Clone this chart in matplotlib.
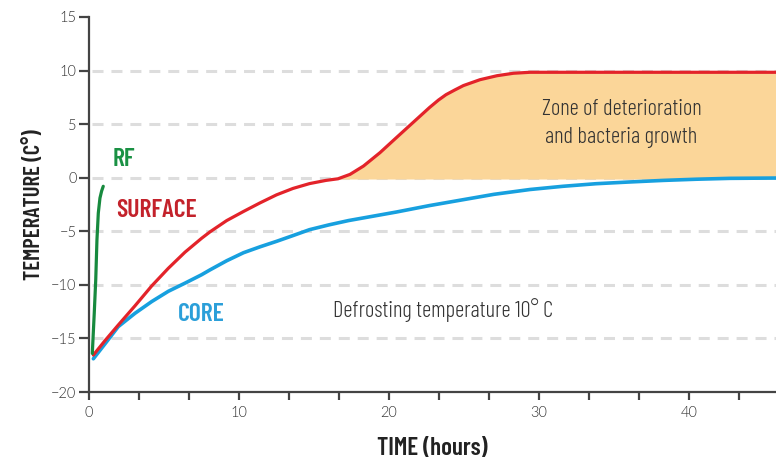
import numpy as np
import matplotlib
matplotlib.use("Agg")
import matplotlib.pyplot as plt

# Readings taken off the reference chart (hours, degrees C)
rf_time = [0.22, 0.35, 0.45, 0.53, 0.62, 0.73, 0.84, 0.95]
rf_temp = [-16.4, -12.65, -9.5, -5.8, -3.3, -1.9, -1.25, -0.8]

surface_time = [0.29, 1.07, 1.95, 3.07, 4.18, 5.29, 6.4, 7.51, 8.07, 9.18,
                10.3, 11.4, 12.5, 13.6, 14.7, 15.8, 16.6, 17.4, 18.3, 19.4,
                20.5, 21.6, 22.7, 23.3, 23.8, 24.4, 24.96, 26.07, 27.2, 28.3,
                29.4, 45.8]
surface_temp = [-16.55, -15.2, -13.75, -11.95, -10.1, -8.45, -6.95, -5.65,
                -5.05, -4.0, -3.15, -2.35, -1.6, -1.0, -0.55, -0.25, -0.1,
                0.31, 1.09, 2.34, 3.75, 5.15, 6.55, 7.25, 7.75, 8.2, 8.6,
                9.15, 9.52, 9.75, 9.84, 9.84]

core_time = [0.29, 1.07, 1.95, 3.07, 4.18, 5.29, 6.4, 7.5, 8.07, 9.18, 10.3,
             11.4, 12.5, 13.6, 14.7, 16.0, 17.3, 18.9, 20.5, 22.7, 24.95,
             27.0, 29.4, 31.6, 33.8, 36.0, 38.3, 40.5, 42.7, 45.8]
core_temp = [-16.9, -15.5, -13.9, -12.65, -11.56, -10.6, -9.84, -9.06, -8.6,
             -7.75, -7.0, -6.45, -5.94, -5.4, -4.85, -4.4, -4.0, -3.6, -3.2,
             -2.6, -2.05, -1.55, -1.1, -0.8, -0.56, -0.4, -0.25, -0.14, -0.06,
             -0.03]

zone_start = 16.6      # surface stays above 0 degrees from here
y_ticks = [-20, -15, -10, -5, 0, 5, 10, 15]
x_labels = [0, 10, 20, 30, 40]
grid_levels = [-15, -10, -5, 0, 5, 10]

cond = ["Barlow Condensed", "DejaVu Sans"]
plain = ["Lato", "DejaVu Sans"]

fig = plt.figure(figsize=(7.76, 4.59), dpi=100)
ax = fig.add_axes([89 / 776, 1 - 392 / 459, 1 - 89 / 776, (392 - 17) / 459])

# dashed reference lines
for lvl in grid_levels:
    ax.axhline(lvl, color="#dddddd", lw=2.2, dashes=(3.6, 2.6), zorder=0,
               xmin=0.004)

# zone of deterioration
st = np.array(surface_time)
sv = np.array(surface_temp)
ax.fill_between(st, sv, -0.12, where=st >= zone_start, color="#fbd699",
                lw=0, zorder=1)

ax.plot(core_time, core_temp, color="#17a0df", lw=2.6, zorder=3,
        solid_capstyle="round", solid_joinstyle="round")
ax.plot(surface_time, surface_temp, color="#e3232a", lw=2.3, zorder=4,
        solid_capstyle="round", solid_joinstyle="round")
ax.plot(rf_time, rf_temp, color="#178a3e", lw=2.3, zorder=5,
        solid_capstyle="round", solid_joinstyle="round")

ax.set_xlim(0, 45.8)
ax.set_ylim(-20, 15)

# labels on the curves
ax.text(2.33, 1.7, "RF", color="#1a9144", fontsize=18.5, fontweight=600,
        family=cond, ha="center", va="center")
ax.text(4.53, -3.1, "SURFACE", color="#c3222b", fontsize=18.5,
        fontweight=600, family=cond, ha="center", va="center")
ax.text(7.47, -12.8, "CORE", color="#2b9fd9", fontsize=18.5, fontweight=600,
        family=cond, ha="center", va="center")
ax.text(23.6, -12.35, "Defrosting temperature 10° C", color="#333333",
        fontsize=16.3, fontweight=300, family=cond, ha="center", va="center")
ax.text(35.5, 5.05, "Zone of deterioration\nand bacteria growth",
        color="#333333", fontsize=16.3, fontweight=300, family=cond,
        ha="center", va="center", linespacing=1.4)

# axes styling
for side in ["top", "right"]:
    ax.spines[side].set_visible(False)
for side in ["left", "bottom"]:
    ax.spines[side].set_color("#444444")
    ax.spines[side].set_linewidth(1.6)

ax.set_yticks(y_ticks)
ax.set_xticks(x_labels)
ax.set_xticks(np.arange(0, 45.8, 10 / 3), minor=True)
ax.tick_params(axis="both", which="both", color="#444444", width=1.6,
               labelsize=10.5, labelcolor="#333333")
ax.tick_params(axis="y", length=7, pad=2)
ax.tick_params(axis="x", which="both", length=6, pad=4)
for lab in ax.get_xticklabels() + ax.get_yticklabels():
    lab.set_family(plain)
    lab.set_fontweight(300)

ax.set_ylabel("TEMPERATURE (C°)", fontsize=16.3, fontweight=600,
              family=cond, color="#222222", labelpad=5)
ax.set_xlabel("TIME (hours)", fontsize=18, fontweight=600, family=cond,
              color="#222222", labelpad=12)

fig.savefig("out.png", dpi=100)
plt.close(fig)
